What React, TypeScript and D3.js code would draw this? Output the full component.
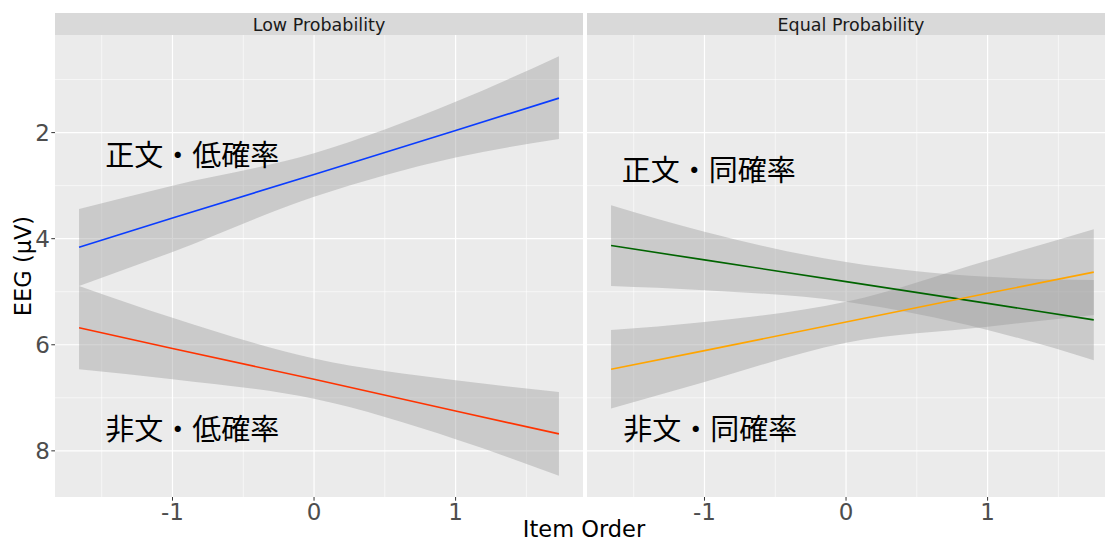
import React from "react";
import * as d3 from "d3";

const panels = ["Low Probability", "Equal Probability"];
const xTicks = [-1, 0, 1];
const xMinor = [-1.5, -0.5, 0.5, 1.5];
const yTicks = [2, 4, 6, 8];
const yMinor = [1, 3, 5, 7];

const xLow = [-1.66, -1, 0, 1, 1.73];
const xEqual = [-1.66, -1, 0, 1, 1.75];

// Low probability: 正文 (blue), 非文 (red)
const blueFit = [4.16, 3.61, 2.79, 1.96, 1.35];
const blueLo = [3.44, 3.0, 2.39, 1.42, 0.56];
const blueHi = [4.89, 4.25, 3.21, 2.47, 2.12];
const redFit = [5.68, 6.07, 6.65, 7.25, 7.68];
const redLo = [4.89, 5.49, 6.26, 6.67, 6.89];
const redHi = [6.46, 6.65, 7.02, 7.78, 8.47];

// Equal probability: 正文 (green), 非文 (orange)
const greenFit = [4.13, 4.4, 4.81, 5.22, 5.53];
const greenLo = [3.37, 3.87, 4.44, 4.72, 4.78];
const greenHi = [4.89, 4.97, 5.19, 5.72, 6.29];
const orangeFit = [6.46, 6.11, 5.57, 5.03, 4.63];
const orangeLo = [5.72, 5.57, 5.19, 4.41, 3.82];
const orangeHi = [7.2, 6.7, 5.96, 5.66, 5.44];

const labels = [
  { panel: 0, text: "正文・低確率", x: -0.86, y: 2.38 },
  { panel: 0, text: "非文・低確率", x: -0.86, y: 7.55 },
  { panel: 1, text: "正文・同確率", x: -0.97, y: 2.67 },
  { panel: 1, text: "非文・同確率", x: -0.96, y: 7.55 },
];

const series = [
  { panel: 0, xs: xLow, fit: blueFit, lo: blueLo, hi: blueHi, color: "#0a3cff" },
  { panel: 0, xs: xLow, fit: redFit, lo: redLo, hi: redHi, color: "#ff3300" },
  { panel: 1, xs: xEqual, fit: greenFit, lo: greenLo, hi: greenHi, color: "#006400" },
  { panel: 1, xs: xEqual, fit: orangeFit, lo: orangeLo, hi: orangeHi, color: "#ffa500" },
];

const W = 1105;
const H = 542;
const panelLeft = [55, 587];
const panelW = 528;
const top = 35;
const bottom = 497;
const stripTop = 13;

const xDomain: [number, number] = [-1.83, 1.9];
const y = d3.scaleLinear().domain([0.16, 8.87]).range([top, bottom]);

const FONT = "'DejaVu Sans', Verdana, sans-serif";
const CJK = "'Noto Sans CJK JP', sans-serif";

export default function App() {
  const xScales = panelLeft.map((l) => d3.scaleLinear().domain(xDomain).range([l, l + panelW]));
  return (
    <svg width={W} height={H} style={{ position: "absolute", left: 0, top: 0, background: "#fff" }}>
      <defs>
        {panelLeft.map((l, i) => (
          <clipPath id={`clip${i}`} key={i}>
            <rect x={l} y={top} width={panelW} height={bottom - top} />
          </clipPath>
        ))}
      </defs>
      {panels.map((p, i) => {
        const x = xScales[i];
        const l = panelLeft[i];
        return (
          <g key={p}>
            <rect x={l} y={top} width={panelW} height={bottom - top} fill="#EBEBEB" />
            <g clipPath={`url(#clip${i})`}>
              {yMinor.map((t) => (
                <line key={"ym" + t} x1={l} x2={l + panelW} y1={y(t)} y2={y(t)} stroke="#fff" strokeWidth={0.6} />
              ))}
              {xMinor.map((t) => (
                <line key={"xm" + t} x1={x(t)} x2={x(t)} y1={top} y2={bottom} stroke="#fff" strokeWidth={0.6} />
              ))}
              {yTicks.map((t) => (
                <line key={"y" + t} x1={l} x2={l + panelW} y1={y(t)} y2={y(t)} stroke="#fff" strokeWidth={1.2} />
              ))}
              {xTicks.map((t) => (
                <line key={"x" + t} x1={x(t)} x2={x(t)} y1={top} y2={bottom} stroke="#fff" strokeWidth={1.2} />
              ))}
              {series
                .filter((s) => s.panel === i)
                .map((s, k) => {
                  const pts = s.xs.map((xv, j) => ({ x: xv, lo: s.lo[j], hi: s.hi[j] }));
                  const area = d3
                    .area<{ x: number; lo: number; hi: number }>()
                    .x((d) => x(d.x))
                    .y0((d) => y(d.lo))
                    .y1((d) => y(d.hi))
                    .curve(d3.curveMonotoneX);
                  return <path key={"r" + k} d={area(pts) || ""} fill="#999999" fillOpacity={0.4} />;
                })}
              {series
                .filter((s) => s.panel === i)
                .map((s, k) => {
                  const line = d3
                    .line<number>()
                    .x((_, j) => x(s.xs[j]))
                    .y((d) => y(d));
                  return <path key={"l" + k} d={line(s.fit) || ""} fill="none" stroke={s.color} strokeWidth={1.6} />;
                })}
              {labels
                .filter((t) => t.panel === i)
                .map((t) => (
                  <text
                    key={t.text}
                    x={x(t.x)}
                    y={y(t.y)}
                    textAnchor="middle"
                    dominantBaseline="central"
                    fontFamily={CJK}
                    fontSize={29}
                    fill="#000"
                  >
                    {t.text}
                  </text>
                ))}
            </g>
            {/* strip */}
            <rect x={l} y={stripTop} width={panelW} height={top - stripTop} fill="#D9D9D9" />
            <text x={l + panelW / 2} y={(stripTop + top) / 2 + 1} textAnchor="middle" dominantBaseline="central" fontFamily={FONT} fontSize={17.5} fill="#1A1A1A">
              {p}
            </text>
            {/* x axis */}
            {xTicks.map((t) => (
              <g key={"xt" + t}>
                <line x1={x(t)} x2={x(t)} y1={bottom} y2={bottom + 3.7} stroke="#333" strokeWidth={1} />
                <text x={x(t)} y={bottom + 23} textAnchor="middle" fontFamily={FONT} fontSize={23} fill="#4D4D4D">
                  {t < 0 ? "-" + Math.abs(t) : String(t)}
                </text>
              </g>
            ))}
          </g>
        );
      })}
      {/* y axis */}
      {yTicks.map((t) => (
        <g key={"yt" + t}>
          <line x1={panelLeft[0] - 3.7} x2={panelLeft[0]} y1={y(t)} y2={y(t)} stroke="#333" strokeWidth={1} />
          <text x={panelLeft[0] - 5} y={y(t)} textAnchor="end" dominantBaseline="central" fontFamily={FONT} fontSize={23} fill="#4D4D4D">
            {t}
          </text>
        </g>
      ))}
      <text x={584} y={537} textAnchor="middle" fontFamily={FONT} fontSize={22.5} fill="#000">
        Item Order
      </text>
      <text
        transform={`translate(31, ${(top + bottom) / 2}) rotate(-90)`}
        textAnchor="middle"
        fontFamily={FONT}
        fontSize={22.5}
        fill="#000"
      >
        EEG (μV)
      </text>
    </svg>
  );
}
